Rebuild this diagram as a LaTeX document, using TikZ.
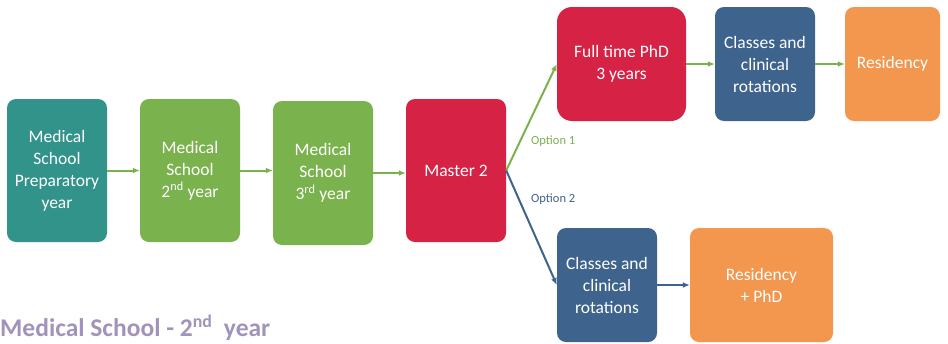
\documentclass[tikz,border=0pt]{standalone}
\usepackage{fontspec}
\setmainfont{Carlito}
\usetikzlibrary{arrows.meta}
\definecolor{cteal}{HTML}{31938A}
\definecolor{cgreen}{HTML}{7AB24E}
\definecolor{cred}{HTML}{D52245}
\definecolor{cblue}{HTML}{3E638C}
\definecolor{corange}{HTML}{F3974E}
\definecolor{ctitle}{HTML}{A193BA}
\begin{document}
\begin{tikzpicture}[x=1pt,y=-1pt,
  box/.style={rounded corners=9pt, inner sep=0pt, align=center, text=white,
    font=\fontsize{17.5}{22}\selectfont},
  garrow/.style={draw=cgreen, line width=2pt, -{Latex[length=7pt,width=6pt]}},
  barrow/.style={draw=cblue, line width=2pt, -{Latex[length=7pt,width=6pt]}},
  optlabel/.style={font=\fontsize{12.5}{14}\selectfont, inner sep=0pt}]
\useasboundingbox (0,0) rectangle (948,343);
\node[box, fill=cteal, minimum width=100pt, minimum height=143pt] (b1) at (57,170.5) {Medical\\School\\Preparatory\\year};
\node[box, fill=cgreen, minimum width=100pt, minimum height=143pt] (b2) at (190,170.5) {Medical\\School\\2\textsuperscript{nd} year};
\node[box, fill=cgreen, minimum width=100pt, minimum height=144pt] (b3) at (323,173) {Medical\\School\\3\textsuperscript{rd} year};
\node[box, fill=cred, minimum width=100pt, minimum height=143pt] (m2) at (456,170.5) {Master 2};
\node[box, fill=cred, rounded corners=15pt, minimum width=129pt, minimum height=114pt] (phd) at (621.5,64) {Full time PhD\\3 years};
\node[box, fill=cblue, minimum width=100pt, minimum height=114pt] (cl1) at (765,64) {Classes and\\clinical\\rotations};
\node[box, fill=corange, minimum width=95pt, minimum height=114pt] (res1) at (892.5,64) {Residency};
\node[box, fill=cblue, minimum width=100pt, minimum height=114pt] (cl2) at (607,285) {Classes and\\clinical\\rotations};
\node[box, fill=corange, minimum width=143pt, minimum height=114pt] (res2) at (761.5,285) {Residency\\+ PhD};
\draw[garrow] (b1.east) -- (b2.west);
\draw[garrow] (b2.east) -- (b2.east -| b3.west);
\draw[garrow] (b3.east) -- (b3.east -| m2.west);
\draw[garrow] (m2.east) -- (phd.west);
\draw[barrow] (m2.east) -- (cl2.west);
\draw[garrow] (phd.east) -- (cl1.west);
\draw[garrow] (cl1.east) -- (res1.west);
\draw[barrow] (cl2.east) -- (res2.west);
\node[optlabel, text=cgreen, anchor=west] (o1) at (531,141) {Option 1};
\node[optlabel, text=cblue, anchor=west] (o2) at (531,199) {Option 2};
\node[anchor=west, inner sep=0pt, text=ctitle, font=\bfseries\fontsize{25.5}{28}\selectfont] (title) at (0,328) {Medical School - 2\textsuperscript{nd}\ \ year};
\end{tikzpicture}
\end{document}
